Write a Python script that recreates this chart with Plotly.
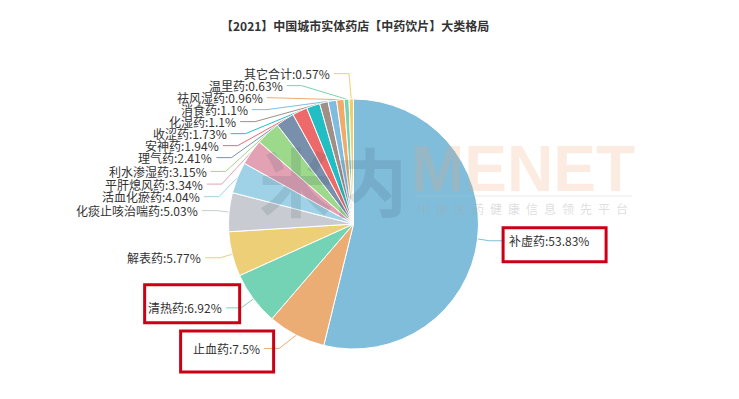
import math
import plotly.graph_objects as go

# ---------------- data ----------------
names = ["补虚药", "止血药", "清热药", "解表药", "化痰止咳治喘药", "活血化瘀药",
         "平肝熄风药", "利水渗湿药", "理气药", "安神药", "收涩药", "化湿药",
         "消食药", "祛风湿药", "温里药", "其它合计"]
values = [53.83, 7.5, 6.92, 5.77, 5.03, 4.04, 3.34, 3.15, 2.41, 1.94, 1.73,
          1.1, 1.1, 0.96, 0.63, 0.57]
value_text = ["53.83%", "7.5%", "6.92%", "5.77%", "5.03%", "4.04%", "3.34%",
              "3.15%", "2.41%", "1.94%", "1.73%", "1.1%", "1.1%", "0.96%",
              "0.63%", "0.57%"]
colors = ["#7fbddb", "#ecad74", "#74d3b5", "#eccf77", "#c8ccd2", "#9fd2e7",
          "#e3a2b4", "#9cd98a", "#7890ab", "#ee6a6a", "#22bec4", "#a08e87",
          "#7fbde0", "#eeab6c", "#79d3b0", "#f0cf6b"]
highlighted = ["补虚药", "止血药", "清热药"]
title_text = "【2021】中国城市实体药店【中药饮片】大类格局"

# ---------------- geometry (page pixels) ----------------
W, H = 739, 399
OFF = 8  # default body margin of the html page
cx, cy, R = 353.5, 224.0, 125.0
LEN1, LEN2 = 15.0, 15.0
LH = 12.0  # label text height
FONT = "Microsoft YaHei, Noto Sans CJK SC, sans-serif"

# initial label layout (echarts-4 style outer labels)
total = sum(values)
items = []
cum = 0.0
for i, (n, v) in enumerate(zip(names, values)):
    ang = (cum + v / 2.0) / total * 2 * math.pi
    cum += v
    dx, dy = math.sin(ang), -math.cos(ang)
    d = -1 if dx < 0 else 1
    x2 = cx + (R + LEN1) * dx
    y2 = cy + (R + LEN1) * dy
    items.append(dict(i=i, p0=(cx + R * dx, cy + R * dy), x=x2 + d * (LEN2 + 5),
                      y=y2, d=d))


def adjust_side(lst, d):
    if not lst:
        return
    lst.sort(key=lambda a: a["y"])
    n = len(lst)

    def shift_up(end, delta):
        for j in range(end, -1, -1):
            if lst[j]["y"] - delta < 0:
                break
            lst[j]["y"] -= delta
            if j > 0 and lst[j]["y"] > lst[j - 1]["y"] + LH:
                break

    def shift_down(start, end, delta):
        for j in range(start, end):
            if lst[j]["y"] + delta > H:
                break
            lst[j]["y"] += delta
            if j > start and j + 1 < end and lst[j + 1]["y"] > lst[j]["y"] + LH:
                shift_up(j, delta / 2.0)
                return
        shift_up(end - 1, delta / 2.0)

    last_y = 0.0
    for k in range(n):
        delta = lst[k]["y"] - last_y
        if delta < 0:
            shift_down(k, n, -delta)
        last_y = lst[k]["y"] + LH
    if H - last_y < 0:
        shift_up(n - 1, last_y - H)

    def change_x(sub, is_down):
        last_dx = float("inf") if is_down else 0.0
        for it in sub:
            ddy = abs(it["y"] - cy)
            if ddy < R + LEN1:
                ddx = math.sqrt((R + LEN1 + LEN2) ** 2 - ddy ** 2)
            else:
                ddx = abs(it["x"] - cx)
            if is_down and ddx >= last_dx:
                ddx = last_dx - 10
            if (not is_down) and ddx <= last_dx:
                ddx = last_dx + 10
            it["x"] = cx + ddx * d
            last_dx = ddx

    change_x([it for it in lst if it["y"] < cy], False)
    change_x([it for it in lst if it["y"] >= cy], True)


adjust_side([it for it in items if it["d"] > 0], 1)
adjust_side([it for it in items if it["d"] < 0], -1)

FW, FH = W - OFF, H - OFF

fig = go.Figure()

# pie
fig.add_trace(go.Pie(
    labels=names, values=values, sort=False, direction="clockwise", rotation=0,
    marker=dict(colors=colors, line=dict(color="#ffffff", width=1)),
    textinfo="none", hoverinfo="label+percent", showlegend=False,
    domain=dict(x=[(cx - R - OFF) / FW, (cx + R - OFF) / FW],
                y=[(H - cy - R) / FH, (H - cy + R) / FH]),
))

annotations = []
shapes = []
for it in items:
    i, d = it["i"], it["d"]
    p2x = it["x"] - d * 3
    p1x = p2x - d * LEN2
    fig.add_trace(go.Scatter(
        x=[it["p0"][0], p1x, p2x], y=[it["p0"][1], it["y"], it["y"]],
        mode="lines", line=dict(color=colors[i], width=1), hoverinfo="skip",
        showlegend=False, xaxis="x", yaxis="y"))
    annotations.append(dict(
        x=it["x"], y=it["y"], xref="x", yref="y", showarrow=False,
        text=f"{names[i]}:{value_text[i]}", xanchor="left" if d > 0 else "right",
        yanchor="middle", borderpad=0,
        font=dict(family=FONT, size=12, color="#333333")))
    if names[i] in highlighted:
        tx, ty = it["x"], it["y"]
        if d > 0:
            box = (tx - 4.5, ty - 13, tx + 98.5, ty + 21)
        elif names[i] == "清热药":
            box = (tx - 78.5, ty - 23, tx + 16.5, ty + 15)
        else:
            box = (tx - 80.5, ty - 17.5, tx + 12.5, ty + 23.5)
        shapes.append(dict(type="rect", xref="x", yref="y", x0=box[0], x1=box[2],
                           y0=box[1], y1=box[3], line=dict(color="#cc0014", width=3),
                           layer="above"))

# title
annotations.append(dict(x=354.5, y=25, xref="x", yref="y", showarrow=False,
                        text="<b>" + title_text + "</b>", xanchor="center",
                        yanchor="middle",
                        font=dict(family=FONT, size=12, color="#333333")))

# watermark
annotations.append(dict(x=333, y=178, xref="x", yref="y", showarrow=False,
                        text="<b>米内</b>", xanchor="center", yanchor="middle",
                        font=dict(family="Noto Sans CJK SC", size=74,
                                  color="rgba(60,80,100,0.15)")))
annotations.append(dict(x=523, y=169, xref="x", yref="y", showarrow=False,
                        text="<b>MENET</b>", xanchor="center", yanchor="middle",
                        font=dict(family="Liberation Sans", size=64,
                                  color="rgba(240,165,115,0.22)")))
annotations.append(dict(x=523, y=208, xref="x", yref="y", showarrow=False,
                        text="\u2002".join("中国医药健康信息领先平台"),
                        xanchor="center", yanchor="middle",
                        font=dict(family="Noto Sans CJK SC", size=12,
                                  color="rgba(170,170,170,0.4)")))
shapes.append(dict(type="line", xref="x", yref="y", x0=415, x1=632, y0=196, y1=196,
                   line=dict(color="rgba(190,190,190,0.35)", width=1), layer="above"))

fig.update_layout(
    width=FW, height=FH, autosize=False,
    margin=dict(l=0, r=0, t=0, b=0),
    paper_bgcolor="#ffffff", plot_bgcolor="rgba(0,0,0,0)",
    xaxis=dict(range=[OFF, W], visible=False, fixedrange=True, domain=[0, 1]),
    yaxis=dict(range=[H, OFF], visible=False, fixedrange=True, domain=[0, 1]),
    annotations=annotations, shapes=shapes,
    hoverlabel=dict(font=dict(family=FONT)),
)

fig.write_html("out.html", config={"displayModeBar": False})
